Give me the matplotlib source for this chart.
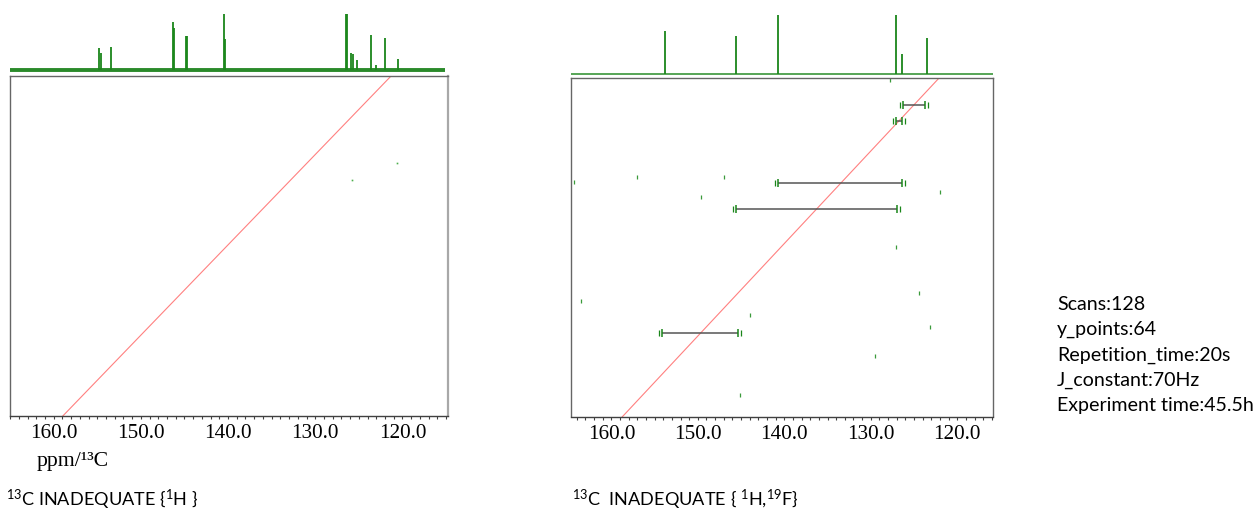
import matplotlib
matplotlib.use("Agg")
import matplotlib.pyplot as plt
from matplotlib.ticker import MultipleLocator, FormatStrFormatter

plt.rcParams['mathtext.fontset'] = 'custom'
plt.rcParams['mathtext.rm'] = 'Lato'
plt.rcParams['mathtext.it'] = 'Lato:italic'
plt.rcParams['mathtext.bf'] = 'Lato:bold'

# ---------------- data ----------------
# 1D 13C{1H} spectrum (left) : peak positions (ppm) and relative heights
left_peak_ppm = [154.77, 154.62, 153.40, 146.35, 146.20, 144.85, 144.75, 140.44, 140.35,
                 126.44, 126.38, 125.90, 125.68, 125.20, 123.60, 123.04, 122.04, 120.55]
left_peak_h = [0.40, 0.30, 0.41, 0.85, 0.75, 0.61, 0.61, 1.00, 0.55,
               1.00, 1.00, 0.31, 0.29, 0.18, 0.63, 0.09, 0.57, 0.20]

# 1D 13C{1H,19F} spectrum (right)
right_peak_ppm = [153.8, 145.6, 140.7, 127.1, 126.4, 123.5]
right_peak_h = [0.73, 0.64, 1.00, 1.00, 0.34, 0.61]

# 2D INADEQUATE correlations (right): pair of coupled carbons and DQ position (mean ppm)
pair_c1 = [126.3, 127.1, 140.7, 145.6, 154.1]
pair_c2 = [123.7, 126.4, 126.4, 127.0, 145.3]
pair_y = [125.0, 126.75, 133.5, 136.3, 149.7]

# weak isolated cross-peaks / artefacts
right_dot_x = [157.0, 147.0, 149.6, 122.05, 164.3, 127.05, 163.5, 144.0, 124.4, 123.1, 129.56, 145.17, 127.75]
right_dot_y = [132.83, 132.77, 134.93, 134.46, 133.3, 140.34, 146.2, 147.7, 145.4, 149.05, 152.15, 156.4, 122.3]
left_dot_x = [120.67, 125.8]
left_dot_y = [130.9, 132.86]

# axis ranges (ppm)
left_xlim = (165.07, 114.77)
left_ylim = (158.9, 121.3)
right_xlim = (164.7, 115.9)
right_ylim = (158.7, 122.1)
diag = [170.0, 110.0]

tick_major = 10
tick_minor = 1

info_lines = ["Scans:128", "y_points:64", "Repetition_time:20s",
              "J_constant:70Hz", "Experiment time:45.5h"]

# ---------------- figure ----------------
W, H = 1256, 512
fig = plt.figure(figsize=(W / 100, H / 100), dpi=100)


def ax_px(x0, y0, x1, y1):
    return fig.add_axes([x0 / W, 1 - y1 / H, (x1 - x0) / W, (y1 - y0) / H])


GREEN = '#1a861a'
RED = '#ff8080'


def style_panel(ax, xlim, ylim, right_light=False):
    ax.set_xlim(*xlim)
    ax.set_ylim(*ylim)
    ax.xaxis.set_major_locator(MultipleLocator(tick_major))
    ax.xaxis.set_minor_locator(MultipleLocator(tick_minor))
    ax.xaxis.set_major_formatter(FormatStrFormatter('%.1f'))
    ax.tick_params(axis='x', which='both', direction='out', length=2.4, width=0.8,
                   color='#404040', pad=3.5)
    ax.tick_params(axis='x', which='major', labelsize=15.2)
    ax.set_yticks([])
    for s in ['left', 'top', 'right']:
        ax.spines[s].set_color('#666666')
        ax.spines[s].set_linewidth(1.0)
    ax.spines['bottom'].set_color('#404040')
    ax.spines['bottom'].set_linewidth(1.0)
    if right_light:
        ax.spines['right'].set_color('#a8a8a8')
        ax.spines['right'].set_linewidth(1.6)


def style_spec(ax, xlim):
    ax.set_xlim(*xlim)
    ax.axis('off')


# ---- left 2D panel ----
axL = ax_px(9.5, 76, 448, 415.5)
style_panel(axL, left_xlim, left_ylim, right_light=True)
axL.plot(diag, diag, color=RED, lw=0.8)
axL.plot(left_dot_x, left_dot_y, ls='none', marker='s', ms=1.2, color='#4caf4c', mew=0)
for lab in axL.get_xticklabels():
    lab.set_fontfamily('Liberation Serif')

# ---- left 1D spectrum ----
axLs = ax_px(9.5, 10, 448, 74)
style_spec(axLs, left_xlim)
axLs.set_ylim(-4 / 56, 1 + 4 / 56)
axLs.plot([left_xlim[0] - 0.1, left_xlim[1] + 0.3], [0, 0], color='#2a8a2a', lw=2.8,
          solid_capstyle='butt')
axLs.vlines(left_peak_ppm, 0, left_peak_h, color=GREEN, lw=1.3)

# ---- right 2D panel ----
axR = ax_px(570.7, 78, 992.7, 416.5)
style_panel(axR, right_xlim, right_ylim)
axR.plot(diag, diag, color=RED, lw=0.8)
axR.hlines(pair_y, pair_c2, pair_c1, color='#555555', lw=1.1)
for c1, c2, y in zip(pair_c1, pair_c2, pair_y):
    axR.plot([c1, c2], [y, y], ls='none', marker='|', ms=6, mew=1.1, color=GREEN)
    axR.plot([c1 + 0.35, c2 - 0.35], [y, y], ls='none', marker='|', ms=5, mew=0.9, color=GREEN)
axR.plot(right_dot_x, right_dot_y, ls='none', marker='|', ms=2.5, mew=0.9, color='#3a9a3a')
for lab in axR.get_xticklabels():
    lab.set_fontfamily('Liberation Serif')

# ---- right 1D spectrum ----
axRs = ax_px(570.7, 12, 992.7, 77)
style_spec(axRs, right_xlim)
axRs.set_ylim(-3 / 59, 1 + 3 / 59)
axRs.plot([right_xlim[0] + 0.1, right_xlim[1] - 0.1], [0, 0], color='#3a963a', lw=1.2)
axRs.vlines(right_peak_ppm, 0, right_peak_h, color=GREEN, lw=1.3)

# ---- texts ----
fig.text(36.5 / W, 1 - 461.5 / H, "ppm/¹³C", family='Liberation Serif', fontsize=15.7,
         va='center', ha='left')
fig.text(6 / W, 1 - 500 / H, r"$^{\mathrm{13}}$C INADEQUATE {$^{\mathrm{1}}$H }",
         family='Lato', fontsize=13.1, va='center', ha='left')
fig.text(572 / W, 1 - 500 / H, r"$^{\mathrm{13}}$C  INADEQUATE { $^{\mathrm{1}}$H,$^{\mathrm{19}}$F}",
         family='Lato', fontsize=13.1, va='center', ha='left')
for i, line in enumerate(info_lines):
    fig.text(1057 / W, 1 - (304 + 25.5 * i) / H, line, family='Lato', fontsize=14.1,
             va='center', ha='left')

fig.savefig("out.png", dpi=100)
